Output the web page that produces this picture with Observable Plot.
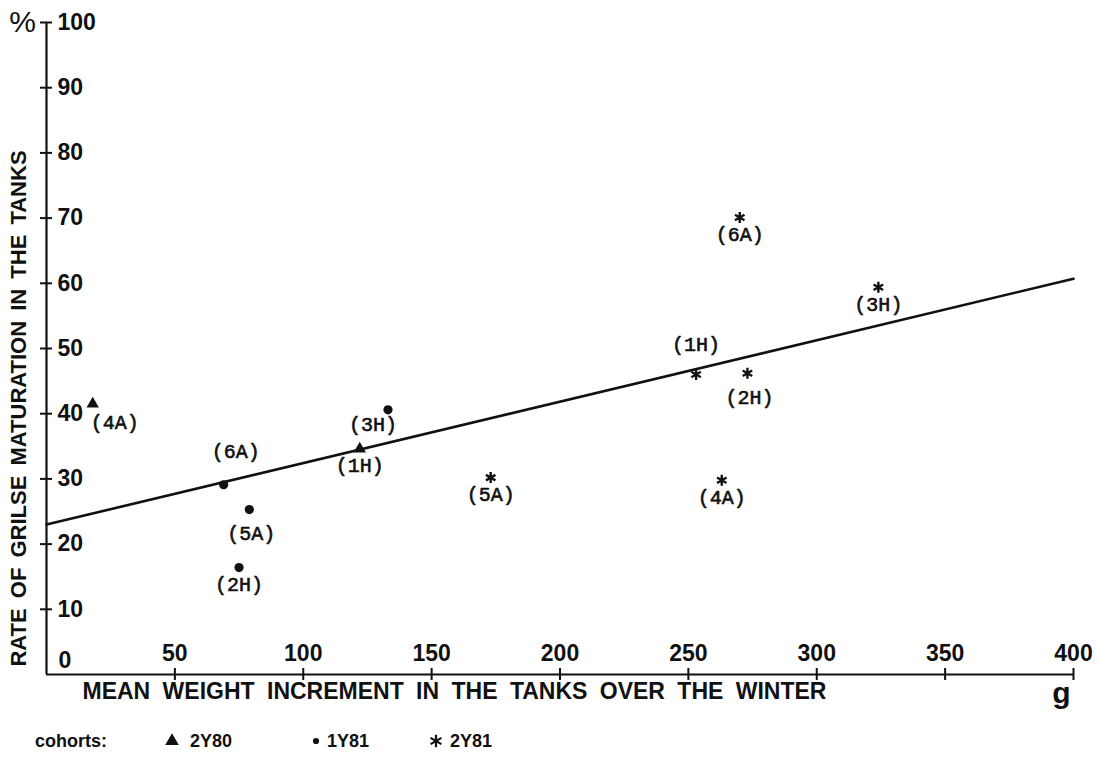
<!DOCTYPE html>
<html><head><meta charset="utf-8">
<script src="https://cdn.jsdelivr.net/npm/d3@7"></script>
<script src="https://cdn.jsdelivr.net/npm/@observablehq/plot@0.6"></script>
<style>
html,body{margin:0;padding:0;background:#fff;}
#chart svg{display:block;background:#fff;}
#legend{position:relative;width:1100px;height:52px;font-family:"Liberation Sans",Arial,sans-serif;font-size:18px;font-weight:bold;color:#111;}
#legend span{position:absolute;top:12px;white-space:nowrap;line-height:18px;}
#legend svg{position:absolute;overflow:visible;}
</style></head><body>
<div id="chart"></div>
<div id="legend"></div>
<script>
// ---- data ----
const cohorts = ["2Y80", "1Y81", "2Y81"];
const pointCohort = ["2Y80","2Y80","1Y81","1Y81","1Y81","1Y81","2Y81","2Y81","2Y81","2Y81","2Y81","2Y81"];
const pointLabel = ["(4A)","(1H)","(6A)","(5A)","(2H)","(3H)","(5A)","(4A)","(6A)","(3H)","(1H)","(2H)"];
const weightIncrement = [18, 122, 69, 79, 75, 133, 173, 263, 270, 324, 253, 273];
const maturationRate = [41.5, 34.6, 29.1, 25.3, 16.4, 40.6, 30.2, 29.8, 70.1, 59.4, 46.0, 46.2];
const labelPlacement = ["right-below","below","above-right","below-far","below","below-left","below","below","below","below","above","below-far"];
const regressionX = [0, 400];
const regressionY = [23, 60.7];
const xTicks = [50, 100, 150, 200, 250, 300, 350, 400];
const yTicks = [10, 20, 30, 40, 50, 60, 70, 80, 90, 100];
const xTitle = "MEAN WEIGHT INCREMENT IN THE TANKS OVER THE WINTER";
const yTitle = "RATE OF GRILSE MATURATION IN THE TANKS";
const xUnit = "g";
const yUnit = "%";
const legendTitle = "cohorts:";

// ---- build ----
const points = weightIncrement.map((w, i) => ({
  x: w, y: maturationRate[i], cohort: pointCohort[i], label: pointLabel[i], place: labelPlacement[i]
}));
const regression = regressionX.map((x, i) => ({x, y: regressionY[i]}));
const offsets = {
  "below": [0, 17], "below-far": [2, 24], "above": [0, -30],
  "above-right": [12, -33], "right-below": [22, 19], "below-left": [-15, 15]
};
const symbolTypes = ["triangle", "circle", "asterisk"];
const sans = "Liberation Sans, Arial, sans-serif";
const mono = "Liberation Mono, DejaVu Sans Mono, monospace";

const labelMarks = Object.entries(offsets).map(([k, [dx, dy]]) =>
  Plot.text(points.filter(d => d.place === k), {
    x: "x", y: "y", text: "label", dx, dy, fontFamily: mono, fontSize: 20,
    fill: "#111", stroke: "#111", strokeWidth: 0.6
  })
);

const chart = Plot.plot({
  width: 1100, height: 720,
  marginLeft: 46, marginRight: 27, marginTop: 22, marginBottom: 46,
  style: {background: "#fff", color: "#111", overflow: "visible"},
  x: {domain: [0, 400]},
  y: {domain: [0, 100]},
  symbol: {domain: cohorts, range: symbolTypes},
  marks: [
    Plot.ruleX([0], {y1: 0, y2: 100, strokeWidth: 2.2, stroke: "#111"}),
    Plot.ruleY([0], {x1: 0, x2: 400, strokeWidth: 2.2, stroke: "#111"}),
    Plot.axisY(yTicks, {anchor: "left", tickSize: 12, dx: 6, tickFormat: () => "", strokeWidth: 2, stroke: "#111", label: null}),
    Plot.axisX(xTicks, {anchor: "bottom", tickSize: 12, dy: -6, tickFormat: () => "", strokeWidth: 2, stroke: "#111", label: null}),
    Plot.text(yTicks, {x: 0, y: d => d, text: d => String(d), textAnchor: "start", dx: 11, fontFamily: sans, fontSize: 23, fontWeight: "bold", fill: "#111"}),
    Plot.text([0], {x: 0, y: d => d, text: d => String(d), textAnchor: "start", dx: 12, dy: -14, fontFamily: sans, fontSize: 23, fontWeight: "bold", fill: "#111"}),
    Plot.text(xTicks, {x: d => d, y: 0, text: d => String(d), dy: -21, fontFamily: sans, fontSize: 23, fontWeight: "bold", fill: "#111"}),
    Plot.text([yTitle], {frameAnchor: "left", textAnchor: "middle", rotate: -90, dx: -28, dy: 60, fontFamily: sans, fontSize: 22, fontWeight: "bold", fill: "#111"}),
    Plot.text([xTitle], {frameAnchor: "bottom-left", textAnchor: "start", dx: 36, dy: 24, fontFamily: sans, fontSize: 23, fontWeight: "bold", fill: "#111"}),
    Plot.text([xUnit], {frameAnchor: "bottom-right", dx: -3, dy: 28, fontFamily: sans, fontSize: 30, fontWeight: "bold", fill: "#111"}),
    Plot.text([yUnit], {frameAnchor: "top-left", textAnchor: "middle", lineAnchor: "middle", dx: -24, dy: 0, fontFamily: sans, fontSize: 30, fill: "#111"}),
    Plot.line(regression, {x: "x", y: "y", strokeWidth: 2.6, stroke: "#111"}),
    Plot.dot(points.filter(d => d.cohort !== "2Y81"), {x: "x", y: "y", symbol: "cohort", r: 4.6, fill: "#111", stroke: "none"}),
    Plot.dot(points.filter(d => d.cohort === "2Y81"), {x: "x", y: "y", symbol: "cohort", r: 5.2, stroke: "#111", strokeWidth: 2.4, fill: "none"}),
    ...labelMarks
  ]
});
d3.select(chart).selectAll("text").filter(function() { return this.textContent === xTitle; }).style("word-spacing", "6px");
d3.select(chart).selectAll("text").filter(function() { return this.textContent === yTitle; }).style("word-spacing", "4px");
document.getElementById("chart").appendChild(chart);

// ---- legend ----
const legend = document.getElementById("legend");
const symbolGen = {triangle: d3.symbolTriangle, circle: d3.symbolCircle, asterisk: d3.symbolAsterisk};
const legendSymbolSize = [80, 30, 110];
const legendPos = [[172, 190], [316, 327], [436, 450]];
const t = document.createElement("span");
t.textContent = legendTitle; t.style.left = "35px";
legend.appendChild(t);
cohorts.forEach((c, i) => {
  const svg = d3.create("svg").attr("width", 1).attr("height", 1)
    .style("left", legendPos[i][0] + "px").style("top", "21px");
  const isAst = symbolTypes[i] === "asterisk";
  svg.append("path").attr("d", d3.symbol(symbolGen[symbolTypes[i]], legendSymbolSize[i])())
    .attr("fill", isAst ? "none" : "#111").attr("stroke", isAst ? "#111" : "none").attr("stroke-width", 2.2);
  legend.appendChild(svg.node());
  const l = document.createElement("span");
  l.textContent = c; l.style.left = legendPos[i][1] + "px";
  legend.appendChild(l);
});
</script>
</body></html>
